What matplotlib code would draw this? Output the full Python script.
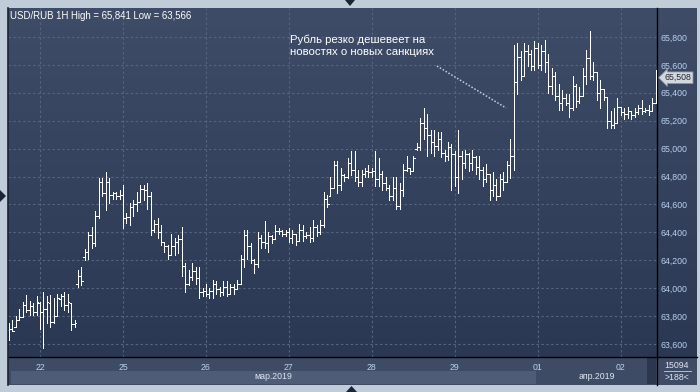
import numpy as np
import matplotlib
matplotlib.use("Agg")
import matplotlib.pyplot as plt
from matplotlib.patches import Rectangle, Polygon
from matplotlib.lines import Line2D
from matplotlib.colors import LinearSegmentedColormap
from matplotlib.ticker import FuncFormatter
from matplotlib.transforms import blended_transform_factory

# hourly USD/RUB bars, 21.03 (tail) .. 02.04.2019
opens = [
    63.70, 63.71, 63.72, 63.77, 63.79, 63.88, 63.84, 63.87, 63.83, 63.89, 63.83, 63.85,
    63.89, 63.76, 63.80, 63.92, 63.94, 63.88, 63.89, 63.74, 64.03, 64.09, 64.22, 64.26,
    64.38, 64.32, 64.52, 64.76, 64.68, 64.76, 64.67, 64.68, 64.66, 64.67, 64.50, 64.51,
    64.58, 64.60, 64.62, 64.71, 64.70, 64.66, 64.42, 64.46, 64.40, 64.33, 64.30, 64.24,
    64.30, 64.33, 64.35, 64.16, 64.03, 64.08, 64.12, 64.07, 63.97, 63.98, 63.96, 63.98,
    64.03, 63.99, 63.97, 64.01, 63.96, 64.01, 63.99, 64.03, 64.21, 64.38, 64.30, 64.20,
    64.17, 64.36, 64.33, 64.32, 64.37, 64.35, 64.41, 64.41, 64.39, 64.40, 64.36, 64.39,
    64.34, 64.42, 64.37, 64.38, 64.36, 64.44, 64.40, 64.45, 64.64, 64.66, 64.72, 64.88,
    64.74, 64.81, 64.80, 64.90, 64.85, 64.80, 64.76, 64.82, 64.84, 64.83, 64.84, 64.78,
    64.82, 64.75, 64.72, 64.66, 64.72, 64.59, 64.70, 64.85, 64.86, 64.84, 65.00, 65.01,
    65.18, 65.15, 65.10, 65.05, 65.02, 65.07, 64.97, 64.95, 65.01, 64.96, 64.80, 64.95,
    64.90, 64.96, 64.90, 64.94, 64.87, 64.85, 64.78, 64.82, 64.70, 64.74, 64.66, 64.78,
    64.76, 64.88, 64.95, 65.48, 65.66, 65.52, 65.70, 65.68, 65.59, 65.72, 65.60, 65.70,
    65.62, 65.45, 65.52, 65.38, 65.33, 65.36, 65.33, 65.29, 65.45, 65.34, 65.38, 65.52,
    65.65, 65.52, 65.55, 65.40, 65.43, 65.37, 65.20, 65.17, 65.18, 65.30, 65.26, 65.25,
    65.27, 65.24, 65.26, 65.29, 65.27, 65.28, 65.27, 65.33,
]
highs = [
    63.75, 63.77, 63.80, 63.85, 63.90, 63.95, 63.91, 63.89, 63.94, 63.90, 63.97, 63.94,
    63.95, 63.93, 63.96, 63.96, 63.97, 63.96, 63.89, 63.77, 64.13, 64.15, 64.28, 64.40,
    64.44, 64.55, 64.79, 64.79, 64.83, 64.79, 64.69, 64.69, 64.70, 64.74, 64.54, 64.61,
    64.63, 64.69, 64.74, 64.74, 64.75, 64.69, 64.49, 64.50, 64.45, 64.33, 64.31, 64.39,
    64.36, 64.38, 64.44, 64.18, 64.13, 64.18, 64.15, 64.15, 64.00, 64.03, 64.00, 64.06,
    64.05, 64.01, 64.05, 64.05, 64.03, 64.03, 64.06, 64.24, 64.42, 64.42, 64.32, 64.21,
    64.40, 64.38, 64.48, 64.40, 64.38, 64.45, 64.43, 64.42, 64.42, 64.43, 64.42, 64.39,
    64.46, 64.45, 64.40, 64.44, 64.49, 64.45, 64.49, 64.69, 64.67, 64.80, 64.91, 64.91,
    64.86, 64.82, 64.93, 64.98, 64.98, 64.85, 64.85, 64.86, 64.88, 64.86, 64.98, 64.93,
    64.84, 64.80, 64.74, 64.80, 64.80, 64.75, 64.89, 64.95, 64.86, 64.95, 65.04, 65.22,
    65.29, 65.25, 65.13, 65.13, 65.12, 65.12, 64.99, 65.05, 65.03, 64.98, 65.13, 64.98,
    64.99, 64.97, 64.99, 64.95, 64.95, 64.87, 64.89, 64.82, 64.83, 64.78, 64.82, 64.83,
    64.91, 65.07, 65.74, 65.76, 65.70, 65.76, 65.74, 65.71, 65.77, 65.76, 65.74, 65.78,
    65.68, 65.58, 65.55, 65.46, 65.42, 65.39, 65.39, 65.52, 65.46, 65.44, 65.58, 65.71,
    65.84, 65.62, 65.55, 65.49, 65.43, 65.37, 65.27, 65.29, 65.36, 65.30, 65.29, 65.30,
    65.27, 65.29, 65.31, 65.35, 65.29, 65.31, 65.36, 65.56,
]
lows = [
    63.63, 63.69, 63.72, 63.77, 63.79, 63.83, 63.81, 63.81, 63.81, 63.71, 63.57, 63.75,
    63.72, 63.75, 63.80, 63.87, 63.84, 63.83, 63.70, 63.72, 64.01, 64.02, 64.20, 64.21,
    64.29, 64.30, 64.50, 64.66, 64.56, 64.61, 64.64, 64.64, 64.64, 64.43, 64.47, 64.45,
    64.52, 64.55, 64.62, 64.63, 64.57, 64.38, 64.40, 64.36, 64.31, 64.26, 64.21, 64.24,
    64.24, 64.25, 64.09, 63.97, 64.02, 64.06, 64.03, 63.93, 63.94, 63.94, 63.93, 63.93,
    63.96, 63.94, 63.95, 63.94, 63.96, 63.96, 63.99, 64.03, 64.15, 64.21, 64.18, 64.11,
    64.15, 64.29, 64.29, 64.26, 64.32, 64.35, 64.39, 64.37, 64.37, 64.33, 64.32, 64.31,
    64.34, 64.34, 64.36, 64.33, 64.34, 64.37, 64.39, 64.44, 64.58, 64.66, 64.72, 64.68,
    64.70, 64.77, 64.79, 64.81, 64.77, 64.73, 64.73, 64.80, 64.80, 64.80, 64.73, 64.73,
    64.70, 64.70, 64.63, 64.63, 64.57, 64.57, 64.66, 64.84, 64.82, 64.84, 64.99, 64.99,
    65.07, 64.95, 64.97, 64.95, 64.99, 64.94, 64.91, 64.92, 64.70, 64.73, 64.68, 64.78,
    64.86, 64.84, 64.85, 64.82, 64.78, 64.73, 64.76, 64.63, 64.66, 64.63, 64.66, 64.70,
    64.76, 64.79, 64.85, 65.39, 65.49, 65.52, 65.59, 65.56, 65.56, 65.58, 65.56, 65.55,
    65.40, 65.39, 65.35, 65.28, 65.28, 65.31, 65.23, 65.28, 65.30, 65.33, 65.38, 65.46,
    65.50, 65.49, 65.35, 65.29, 65.35, 65.15, 65.15, 65.15, 65.18, 65.24, 65.21, 65.22,
    65.21, 65.23, 65.25, 65.25, 65.26, 65.24, 65.27, 65.33,
]
closes = [
    63.71, 63.69, 63.77, 63.79, 63.88, 63.84, 63.87, 63.83, 63.90, 63.83, 63.85, 63.90,
    63.76, 63.80, 63.93, 63.94, 63.88, 63.90, 63.74, 63.75, 64.09, 64.05, 64.26, 64.38,
    64.32, 64.52, 64.76, 64.68, 64.76, 64.67, 64.68, 64.66, 64.67, 64.50, 64.51, 64.58,
    64.60, 64.62, 64.71, 64.70, 64.66, 64.42, 64.46, 64.40, 64.33, 64.30, 64.24, 64.30,
    64.33, 64.35, 64.16, 64.03, 64.08, 64.12, 64.07, 63.97, 63.98, 63.96, 63.98, 64.03,
    63.99, 63.97, 64.01, 63.96, 64.01, 63.99, 64.03, 64.21, 64.38, 64.30, 64.20, 64.17,
    64.36, 64.33, 64.32, 64.37, 64.35, 64.41, 64.41, 64.39, 64.40, 64.36, 64.39, 64.34,
    64.42, 64.37, 64.38, 64.36, 64.44, 64.40, 64.45, 64.64, 64.60, 64.72, 64.88, 64.74,
    64.81, 64.80, 64.90, 64.85, 64.80, 64.76, 64.82, 64.84, 64.83, 64.84, 64.78, 64.82,
    64.75, 64.72, 64.66, 64.72, 64.59, 64.70, 64.85, 64.86, 64.84, 64.93, 65.01, 65.18,
    65.15, 65.10, 65.05, 65.02, 65.07, 64.97, 64.95, 65.01, 64.96, 64.80, 64.95, 64.90,
    64.96, 64.90, 64.94, 64.87, 64.85, 64.78, 64.82, 64.70, 64.74, 64.66, 64.78, 64.76,
    64.88, 64.95, 65.48, 65.66, 65.52, 65.70, 65.68, 65.59, 65.72, 65.60, 65.70, 65.62,
    65.45, 65.52, 65.38, 65.33, 65.36, 65.33, 65.29, 65.45, 65.34, 65.38, 65.52, 65.65,
    65.52, 65.55, 65.40, 65.43, 65.37, 65.20, 65.17, 65.18, 65.30, 65.26, 65.25, 65.27,
    65.24, 65.26, 65.29, 65.27, 65.28, 65.27, 65.33, 65.508,
]

day_labels = ["22", "25", "26", "27", "28", "29", "01", "02"]
day_first_bar = [9, 33, 57, 81, 105, 129, 153, 177]
month_labels = ["мар.2019", "апр.2019"]
price_ticks = [63.6, 63.8, 64.0, 64.2, 64.4, 64.6, 64.8, 65.0, 65.2, 65.4, 65.6, 65.8]
last_price = closes[-1]
title = "USD/RUB 1H High = 65,841 Low = 63,566"
note = "Рубль резко дешевеет на\nновостях о новых санкциях"

W, H = 700, 392
FONT = ["Liberation Sans", "DejaVu Sans"]
plt.rcParams["font.family"] = FONT

FRAME = "#c1ccd9"
PANEL = "#3e4b65"
LABEL = "#b9d0ee"


def fx(x):
    return x / W


def fy(y):
    return 1 - y / H


def rect(x0, y0, x1, y1, **kw):
    return Rectangle((fx(x0), fy(y1)), fx(x1) - fx(x0), fy(y0) - fy(y1),
                     transform=fig.transFigure, **kw)


fig = plt.figure(figsize=(W / 100, H / 100), dpi=100, facecolor=FRAME)

# panels behind the chart
fig.patches.append(rect(8, 357, 697, 385, facecolor=PANEL, edgecolor="none", zorder=0))
fig.patches.append(rect(11, 371, 536, 384, facecolor="#4e5c77", edgecolor="none", zorder=0))
fig.patches.append(rect(647, 358, 656, 384, facecolor="#2b374f", edgecolor="none", zorder=0))

bg = fig.add_axes([fx(8), fy(357), fx(697) - fx(8), fy(8) - fy(357)], zorder=0)
grad = np.linspace(0, 1, 256).reshape(-1, 1)
cmap = LinearSegmentedColormap.from_list("bg", ["#3f4c67", "#2b3853"])
bg.imshow(grad, aspect="auto", cmap=cmap, extent=[0, 1, 0, 1])
bg.set_axis_off()

ax = fig.add_axes([fx(8), fy(357), fx(657) - fx(8), fy(8) - fy(357)], zorder=1)
ax.set_facecolor("none")

# one pixel wide OHLC bars
x = np.arange(len(closes))
tick = 0.45
px = 0.72
ax.vlines(x, lows, highs, colors="white", lw=px, antialiased=False, zorder=3)
ax.hlines(opens, x - tick, x, colors="white", lw=px, antialiased=False, zorder=3)
ax.hlines(closes, x, x + tick, colors="white", lw=px, antialiased=False, zorder=3)

ax.set_xlim(-0.25, 187.43)
ax.set_ylim(63.506, 66.008)

ax.set_xticks(day_first_bar)
ax.set_xticklabels(day_labels)
ax.set_yticks(price_ticks)
ax.yaxis.set_major_formatter(FuncFormatter(lambda v, p: f"{v:.3f}".replace(".", ",")))
ax.yaxis.tick_right()
ax.tick_params(axis="y", length=0, pad=2.5, labelsize=6.3, labelcolor=LABEL)
ax.tick_params(axis="x", length=0, pad=4.2, labelsize=6.3, labelcolor=LABEL)
ax.grid(True, color="#55647f", lw=0.8, linestyle=(0, (2.2, 2.2)))
ax.set_axisbelow(True)
for side in ["top", "left"]:
    ax.spines[side].set_visible(False)
ax.spines["right"].set_color("black")
ax.spines["bottom"].set_color("black")
ax.spines["right"].set_linewidth(1.0)
ax.spines["bottom"].set_linewidth(1.0)

# last price marker
tr = blended_transform_factory(ax.transAxes, ax.transData)
ax.text(1.012, last_price, f"{last_price:.3f}".replace(".", ","), transform=tr,
        ha="left", va="center", fontsize=6.3, color="#202530", clip_on=False,
        bbox=dict(boxstyle="larrow,pad=0.15", fc="#d3d7de", ec="#8a93a3", lw=0.6))

# news annotation
ax.text(81.4, 65.815, note, color="white", fontsize=8.2, va="top", ha="left",
        linespacing=1.15)
ax.plot([123.8, 143.8], [65.592, 65.291], color="#c9ced8", lw=1.1,
        linestyle=(0, (1, 1.2)), zorder=2)

# texts outside the axes
fig.text(fx(10), fy(11), title, color="white", fontsize=6.9, va="top", ha="left")
fig.text(fx(273.5), fy(376.5), month_labels[0], color="#dfe6f2", fontsize=6.3,
         ha="center", va="center")
fig.text(fx(597), fy(376.5), month_labels[1], color="#dfe6f2", fontsize=6.3,
         ha="center", va="center")
fig.text(fx(677), fy(365.5), "15094", color="#dfe6f2", fontsize=6.3, ha="center", va="center")
fig.text(fx(677), fy(377.5), ">188<", color="#dfe6f2", fontsize=6.3, ha="center", va="center")

fig.lines.append(Line2D([fx(664), fx(691)], [fy(371), fy(371)], color="#c8d2e2", lw=0.6,
                        transform=fig.transFigure))
fig.lines.append(Line2D([fx(657), fx(657)], [fy(357), fy(385)], color="black", lw=1.0,
                        transform=fig.transFigure))
fig.lines.append(Line2D([fx(657), fx(697)], [fy(357), fy(357)], color="black", lw=1.0,
                        transform=fig.transFigure))
fig.lines.append(Line2D([fx(7.5), fx(7.5)], [fy(8), fy(385)], color="#1d2330", lw=1.2,
                        transform=fig.transFigure))

# navigation arrows on the frame
for pts in ([(345, 0), (355, 0), (350, 6)],
            [(346, 392), (357, 392), (351.5, 386)],
            [(0, 190), (0, 202), (6, 196)]):
    fig.patches.append(Polygon([(fx(a), fy(b)) for a, b in pts], closed=True,
                               transform=fig.transFigure, facecolor="#1b2436",
                               edgecolor="none"))

fig.savefig("out.png", dpi=100, facecolor=FRAME)
